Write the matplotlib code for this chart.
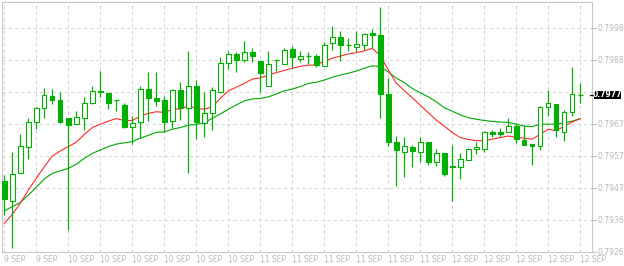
import matplotlib
matplotlib.use('Agg')
import matplotlib.pyplot as plt
from matplotlib.transforms import blended_transform_factory
from matplotlib.patches import Rectangle
import numpy as np

opens = [0.79489, 0.79424, 0.79514, 0.79600, 0.79678, 0.79723, 0.79762, 0.79750, 0.79692, 0.79672,
         0.79691, 0.79739, 0.79779, 0.79772, 0.79750, 0.79734, 0.79664, 0.79678, 0.79784, 0.79756,
         0.79750, 0.79681, 0.79782, 0.79723, 0.79794, 0.79675, 0.79707, 0.79775, 0.79868, 0.79897,
         0.79879, 0.79903, 0.79874, 0.79794, 0.79877, 0.79865, 0.79913, 0.79881, 0.79890, 0.79890,
         0.79858, 0.79932, 0.79951, 0.79927, 0.79919, 0.79926, 0.79964, 0.79959, 0.79768, 0.79614,
         0.79584, 0.79598, 0.79582, 0.79614, 0.79551, 0.79578, 0.79538, 0.79533, 0.79556, 0.79591,
         0.79593, 0.79647, 0.79647, 0.79646, 0.79666, 0.79621, 0.79607, 0.79603, 0.79726, 0.79737,
         0.79646, 0.79710, 0.79766]
highs = [0.79510, 0.79583, 0.79640, 0.79693, 0.79727, 0.79788, 0.79785, 0.79775, 0.79692, 0.79713,
         0.79759, 0.79795, 0.79844, 0.79772, 0.79750, 0.79740, 0.79698, 0.79795, 0.79840, 0.79840,
         0.79763, 0.79784, 0.79808, 0.79907, 0.79814, 0.79775, 0.79792, 0.79888, 0.79907, 0.79904,
         0.79939, 0.79917, 0.79874, 0.79907, 0.79877, 0.79917, 0.79922, 0.79906, 0.79903, 0.79897,
         0.79935, 0.79988, 0.79971, 0.79948, 0.79971, 0.79964, 0.79977, 0.80049, 0.79820, 0.79634,
         0.79631, 0.79604, 0.79631, 0.79614, 0.79591, 0.79578, 0.79604, 0.79578, 0.79595, 0.79615,
         0.79651, 0.79654, 0.79660, 0.79693, 0.79675, 0.79669, 0.79607, 0.79731, 0.79782, 0.79737,
         0.79719, 0.79855, 0.79805]
lows = [0.79380, 0.79275, 0.79514, 0.79561, 0.79657, 0.79693, 0.79737, 0.79677, 0.79332, 0.79672,
        0.79654, 0.79736, 0.79758, 0.79722, 0.79714, 0.79661, 0.79607, 0.79629, 0.79683, 0.79730,
        0.79646, 0.79661, 0.79686, 0.79516, 0.79625, 0.79630, 0.79654, 0.79773, 0.79850, 0.79841,
        0.79871, 0.79871, 0.79776, 0.79794, 0.79843, 0.79865, 0.79852, 0.79872, 0.79865, 0.79857,
        0.79858, 0.79911, 0.79876, 0.79907, 0.79905, 0.79910, 0.79916, 0.79691, 0.79603, 0.79474,
        0.79503, 0.79535, 0.79550, 0.79540, 0.79538, 0.79506, 0.79426, 0.79497, 0.79556, 0.79576,
        0.79584, 0.79632, 0.79632, 0.79646, 0.79612, 0.79605, 0.79542, 0.79590, 0.79698, 0.79632,
        0.79619, 0.79699, 0.79740]
closes = [0.79432, 0.79512, 0.79602, 0.79678, 0.79723, 0.79765, 0.79751, 0.79679, 0.79668, 0.79694,
          0.79739, 0.79778, 0.79775, 0.79739, 0.79750, 0.79663, 0.79675, 0.79784, 0.79757, 0.79747,
          0.79680, 0.79782, 0.79725, 0.79794, 0.79680, 0.79707, 0.79781, 0.79868, 0.79897, 0.79879,
          0.79903, 0.79892, 0.79838, 0.79865, 0.79877, 0.79910, 0.79887, 0.79890, 0.79890, 0.79862,
          0.79926, 0.79951, 0.79928, 0.79927, 0.79929, 0.79961, 0.79960, 0.79770, 0.79616, 0.79588,
          0.79601, 0.79587, 0.79614, 0.79551, 0.79578, 0.79513, 0.79533, 0.79559, 0.79592, 0.79599,
          0.79647, 0.79641, 0.79641, 0.79666, 0.79623, 0.79605, 0.79603, 0.79727, 0.79739, 0.79652,
          0.79710, 0.79768, 0.79766]

ma_fast = [0.79353, 0.79382, 0.79418, 0.79460, 0.79498, 0.79535, 0.79570, 0.79586, 0.79600, 0.79614,
           0.79639, 0.79661, 0.79672, 0.79682, 0.79690, 0.79684, 0.79684, 0.79698, 0.79707, 0.79712,
           0.79710, 0.79720, 0.79721, 0.79731, 0.79723, 0.79720, 0.79728, 0.79755, 0.79779, 0.79791,
           0.79803, 0.79817, 0.79821, 0.79830, 0.79838, 0.79845, 0.79852, 0.79858, 0.79862, 0.79862,
           0.79875, 0.79884, 0.79891, 0.79898, 0.79902, 0.79908, 0.79916, 0.79893, 0.79846, 0.79804,
           0.79780, 0.79757, 0.79733, 0.79709, 0.79685, 0.79666, 0.79645, 0.79629, 0.79623, 0.79619,
           0.79619, 0.79624, 0.79629, 0.79634, 0.79630, 0.79627, 0.79624, 0.79640, 0.79656, 0.79651,
           0.79666, 0.79679, 0.79690]
ma_slow = [0.79393, 0.79407, 0.79420, 0.79444, 0.79469, 0.79496, 0.79514, 0.79522, 0.79530, 0.79543,
           0.79562, 0.79578, 0.79589, 0.79600, 0.79608, 0.79612, 0.79616, 0.79627, 0.79636, 0.79646,
           0.79647, 0.79656, 0.79661, 0.79669, 0.79671, 0.79677, 0.79691, 0.79705, 0.79720, 0.79734,
           0.79747, 0.79753, 0.79755, 0.79760, 0.79769, 0.79779, 0.79785, 0.79793, 0.79803, 0.79807,
           0.79814, 0.79823, 0.79830, 0.79836, 0.79843, 0.79852, 0.79860, 0.79857, 0.79840, 0.79820,
           0.79806, 0.79787, 0.79773, 0.79760, 0.79744, 0.79725, 0.79714, 0.79702, 0.79693, 0.79688,
           0.79684, 0.79681, 0.79679, 0.79678, 0.79672, 0.79666, 0.79664, 0.79672, 0.79672, 0.79672,
           0.79677, 0.79682, 0.79690]

y_ticks = [0.79260, 0.79363, 0.79466, 0.79569, 0.79672, 0.79775, 0.79877, 0.79980]
y_labels = ['0.7926', '0.7936', '0.7947', '0.7957', '0.7967', '0.7977', '0.7988', '0.7998']
x_label_idx = list(range(0, 73, 4))
x_labels = ['9 SEP', '9 SEP'] + ['10 SEP'] * 6 + ['11 SEP'] * 6 + ['12 SEP'] * 5

CANDLE = '#00B000'
RED = '#FF2A2A'
GREENMA = '#00A800'
GRID = '#d4d4d4'
TXT = '#b8b8b8'

W, H = 624, 266
fig = plt.figure(figsize=(W / 100, H / 100), dpi=100)
left_px, right_px, top_px, bot_px = 1.5, 592.3, 1.7, 252.3
ax = fig.add_axes([left_px / W, (H - bot_px) / H, (right_px - left_px) / W, (bot_px - top_px) / H])
ax.set_xlim(-0.35, 73.5)
ax.set_ylim(0.79260, 0.80066)
for s in ax.spines.values():
    s.set_color('#c8c8c8')
    s.set_linewidth(0.8)

ax.set_xticks(x_label_idx)
ax.set_yticks(y_ticks)
ax.tick_params(length=0, labelbottom=False, labelleft=False)
ax.grid(True, color=GRID, linestyle=(0, (3, 3)), linewidth=0.75)
ax.set_axisbelow(True)

n = len(opens)
x = np.arange(n)
o = np.array(opens); c = np.array(closes); h = np.array(highs); l = np.array(lows)

# moving averages
ax.plot(x, ma_slow, color=GREENMA, lw=0.8, zorder=2)
ax.plot(x, ma_fast, color=RED, lw=0.8, zorder=2)

# wicks
ax.vlines(x, l, h, color=CANDLE, lw=0.9, zorder=3)
bw = 0.55
for i in range(n):
    if o[i] == c[i]:
        ax.hlines(o[i], x[i] - bw / 2 - 0.06, x[i] + bw / 2 + 0.06, color=CANDLE, lw=0.9, zorder=4)
    else:
        bottom = min(o[i], c[i])
        height = abs(c[i] - o[i])
        fc = 'white' if c[i] > o[i] else CANDLE
        ax.bar(x[i], height, bottom=bottom, width=bw, facecolor=fc, edgecolor=CANDLE,
               linewidth=0.8, zorder=4)

last = closes[-1]
last_label = f'{last:.4f}'

# y labels on the right (the one under the current-price box is hidden, as in the reference)
ty = blended_transform_factory(fig.transFigure, ax.transData)
for p, lab in zip(y_ticks, y_labels):
    ax.plot([593 / W, 596 / W], [p, p], transform=ty, color=TXT, lw=0.7, clip_on=False)
    if lab == last_label:
        continue
    ax.text(597 / W, p, lab, transform=ty, ha='left', va='center', fontsize=5.5,
            color=TXT, clip_on=False)

# x labels
tx = blended_transform_factory(ax.transData, fig.transFigure)
for i, lab in zip(x_label_idx, x_labels):
    ax.text(i, (H - 259) / H, lab, transform=tx, ha='left', va='center', fontsize=5.5,
            color=TXT, clip_on=False)

# current price marker
px_per_price = (bot_px - top_px) / (0.80066 - 0.79260)
half_h = 3.6 / px_per_price
ax.add_patch(Rectangle((594.3 / W, last - half_h), (621 - 594.3) / W, 2 * half_h,
                       transform=ty, facecolor='black', edgecolor='none', clip_on=False, zorder=10))
ax.plot([590 / W, 594 / W], [last, last], transform=ty, color='black', lw=0.9, clip_on=False, zorder=10)
ax.text((594.3 + 621) / 2 / W, last, last_label, transform=ty, ha='center', va='center',
        fontsize=5.5, fontweight='bold', color='white', clip_on=False, zorder=11)

fig.savefig('out.png', dpi=100)
